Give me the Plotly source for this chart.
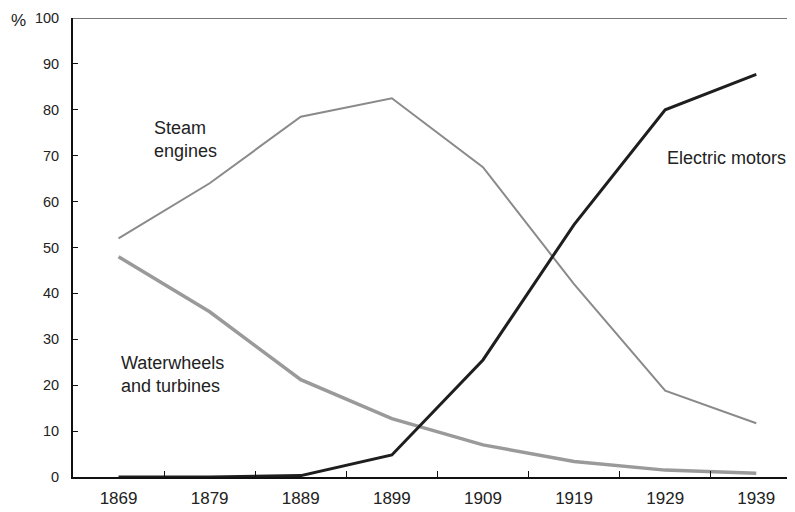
import plotly.graph_objects as go

years = ["1869", "1879", "1889", "1899", "1909", "1919", "1929", "1939"]
steam = [52, 64, 78.5, 82.5, 67.5, 42, 18.8, 11.7]
water = [48, 36, 21.2, 12.7, 7, 3.4, 1.5, 0.8]
electric = [0, 0, 0.3, 4.8, 25.5, 55, 80, 87.7]

font = "Liberation Sans, Arial, sans-serif"

fig = go.Figure()

fig.add_trace(go.Scatter(x=years, y=steam, mode="lines", name="Steam engines",
                         line=dict(color="#8a8a8a", width=2)))
fig.add_trace(go.Scatter(x=years, y=water, mode="lines", name="Waterwheels and turbines",
                         line=dict(color="#9a9a9a", width=3.5)))
fig.add_trace(go.Scatter(x=years, y=electric, mode="lines", name="Electric motors",
                         line=dict(color="#1e1e1e", width=3)))

notes = [
    (0.37, 73.6, "Steam<br>engines"),
    (6.0, 69.5, "Electric motors"),
    (0.01, 22.4, "Waterwheels<br>and turbines"),
]
for x, y, t in notes:
    fig.add_annotation(x=x, y=y, xref="x", yref="y", text=t, showarrow=False,
                       xanchor="left", yanchor="middle", align="left",
                       font=dict(family=font, size=18, color="#222"))

# "%" unit label sits left of the 100 tick
fig.add_annotation(x=-0.076, y=99.5, xref="paper", yref="y", text="%", showarrow=False,
                   xanchor="center", yanchor="middle", font=dict(family=font, size=17, color="#222"))

fig.add_shape(type="line", xref="paper", yref="y", x0=0, x1=1, y0=100, y1=100,
              line=dict(color="#777", width=2))

fig.update_xaxes(type="category", range=[-0.5, 7.425], showgrid=False, zeroline=False,
                 showline=True, linecolor="#111", linewidth=2, automargin=False,
                 ticks="inside", tickson="boundaries", ticklen=6, tickcolor="#111", tickwidth=1,
                 ticklabelstandoff=5,
                 tickfont=dict(family=font, size=17, color="#222"))
fig.update_yaxes(range=[0, 100], dtick=10, showgrid=False, zeroline=False,
                 showline=True, linecolor="#111", linewidth=2, automargin=False,
                 ticks="inside", ticklen=5, tickcolor="#111", tickwidth=1,
                 ticklabelstandoff=9,
                 tickfont=dict(family=font, size=14.5, color="#222"))

# page body adds an 8px margin, so the figure is sized 8px short on each axis
fig.update_layout(width=787, height=504, margin=dict(l=65, r=0, t=10, b=35),
                  plot_bgcolor="white", paper_bgcolor="white", showlegend=False)

fig.write_html("out.html")
